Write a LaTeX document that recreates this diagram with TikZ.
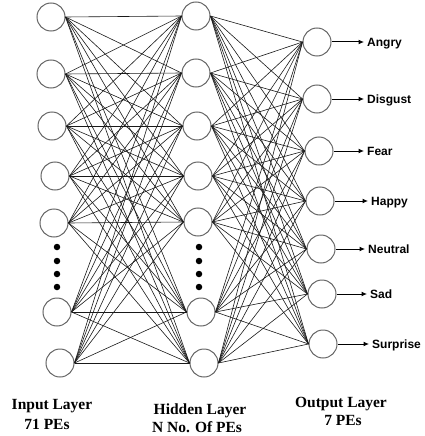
\documentclass[tikz,border=0pt]{standalone}
\usepackage{fontspec}
\setmainfont{Liberation Serif}
\newfontfamily\lblfont{Liberation Sans}
\usetikzlibrary{arrows.meta}
\begin{document}
\begin{tikzpicture}[x=1pt,y=-1pt,
  neuron/.style={circle,draw=black!60,line width=1pt,minimum size=28pt,inner sep=0pt},
  link/.style={black!90,line width=0.6pt},
  outarrow/.style={black,line width=1pt,-{Latex[length=5.5pt,width=5pt]}},
  classlbl/.style={anchor=base west,inner sep=0pt,font=\lblfont\bfseries\fontsize{12}{14}\selectfont},
  layerlbl/.style={anchor=base,inner sep=0pt,font=\bfseries\fontsize{15.5}{18}\selectfont},
  dotmark/.style={circle,fill=black,inner sep=0pt,minimum size=6.5pt}]
\useasboundingbox (0,0) rectangle (425,436);
% input layer
\foreach \n/\x/\y in {1/51/17,2/51/74,3/52/126,4/55/176,5/54/223,6/57/312,7/60/363}
  \node[neuron] (I\n) at (\x,\y) {};
% hidden layer
\foreach \n/\x/\y in {1/196/16,2/196/73,3/197/126,4/198/176,5/198/222,6/201/312,7/204/363}
  \node[neuron] (H\n) at (\x,\y) {};
% output layer
\foreach \n/\x/\y in {1/317/42,2/317/99,3/319/151,4/320/201,5/321/249,6/322/294,7/323/344}
  \node[neuron] (O\n) at (\x,\y) {};
% dots
\foreach \n/\y in {1/247,2/261,3/274,4/287}{
  \node[dotmark] (di\n) at (57,\y) {};
  \node[dotmark] (dh\n) at (199,\y) {};
}
% connections
\foreach \i in {1,...,7}
  \foreach \j in {1,...,7}{
    \draw[link] (I\i.east) -- (H\j.west);
    \draw[link] (H\i.east) -- (O\j.west);
  }
% class labels
\foreach \n/\x/\t in {1/367/Angry,2/367/Disgust,3/367/Fear,4/371/Happy,5/368/Neutral,6/370/Sad,7/372/Surprise}{
  \path (O\n.center) ++(0,4.5) coordinate (b\n);
  \node[classlbl] (C\n) at (b\n -| \x,0) {\t};
  \draw[outarrow] (O\n.east) -- ([xshift=-3pt]O\n.east -| C\n.west);
}
% layer labels
\node[layerlbl] (L1a) at (52,409) {Input Layer};
\node[layerlbl] (L1b) at (47,429) {71 PEs};
\node[layerlbl] (L2a) at (200,414) {Hidden Layer};
\node[layerlbl] (L2b) at (197,432) {N No. Of PEs};
\node[layerlbl] (L3a) at (341,407) {Output Layer};
\node[layerlbl] (L3b) at (343,425) {7 PEs};
\end{tikzpicture}
\end{document}
